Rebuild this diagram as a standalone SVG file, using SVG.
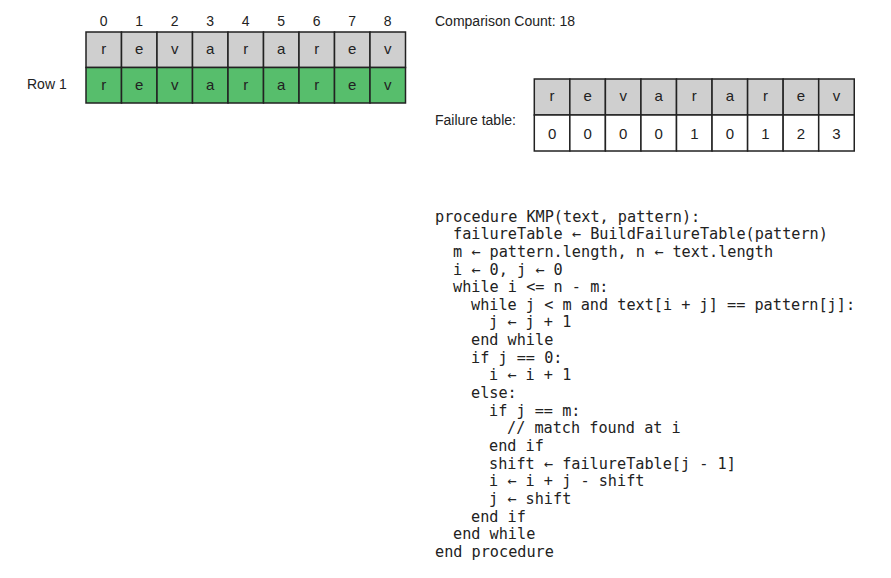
<svg xmlns="http://www.w3.org/2000/svg" width="891" height="578" viewBox="0 0 891 578">
<style>
.lbl{font-family:"Liberation Sans",Arial,sans-serif;font-size:14px;fill:#222}
.idx{font-family:"Liberation Sans",Arial,sans-serif;font-size:14px;fill:#222;text-anchor:middle}
.cell{font-family:"Liberation Sans",Arial,sans-serif;font-size:15px;fill:#222;text-anchor:middle}
.g{fill:#cfcfcf;stroke:#222;stroke-width:1.5}
.gr{fill:#57be6c;stroke:#222;stroke-width:1.5}
.w{fill:#ffffff;stroke:#222;stroke-width:1.5}
.code{font-family:"DejaVu Sans Mono","Liberation Mono",monospace;font-size:15.2px;fill:#222}
</style>
<rect width="891" height="578" fill="#ffffff"/>

<g id="column-indices">
<text class="idx" x="103.75" y="26">0</text>
<text class="idx" x="139.25" y="26">1</text>
<text class="idx" x="174.75" y="26">2</text>
<text class="idx" x="210.25" y="26">3</text>
<text class="idx" x="245.75" y="26">4</text>
<text class="idx" x="281.25" y="26">5</text>
<text class="idx" x="316.75" y="26">6</text>
<text class="idx" x="352.25" y="26">7</text>
<text class="idx" x="387.75" y="26">8</text>
</g>

<g id="text-row">
<rect class="g" x="86" y="32" width="35.5" height="35.5"/>
<rect class="g" x="121.5" y="32" width="35.5" height="35.5"/>
<rect class="g" x="157" y="32" width="35.5" height="35.5"/>
<rect class="g" x="192.5" y="32" width="35.5" height="35.5"/>
<rect class="g" x="228" y="32" width="35.5" height="35.5"/>
<rect class="g" x="263.5" y="32" width="35.5" height="35.5"/>
<rect class="g" x="299" y="32" width="35.5" height="35.5"/>
<rect class="g" x="334.5" y="32" width="35.5" height="35.5"/>
<rect class="g" x="370" y="32" width="35.5" height="35.5"/>
<text class="cell" x="103.75" y="54">r</text>
<text class="cell" x="139.25" y="54">e</text>
<text class="cell" x="174.75" y="54">v</text>
<text class="cell" x="210.25" y="54">a</text>
<text class="cell" x="245.75" y="54">r</text>
<text class="cell" x="281.25" y="54">a</text>
<text class="cell" x="316.75" y="54">r</text>
<text class="cell" x="352.25" y="54">e</text>
<text class="cell" x="387.75" y="54">v</text>
</g>

<g id="row-1">
<text class="lbl" x="27" y="89">Row 1</text>
<rect class="gr" x="86" y="67.5" width="35.5" height="35.5"/>
<rect class="gr" x="121.5" y="67.5" width="35.5" height="35.5"/>
<rect class="gr" x="157" y="67.5" width="35.5" height="35.5"/>
<rect class="gr" x="192.5" y="67.5" width="35.5" height="35.5"/>
<rect class="gr" x="228" y="67.5" width="35.5" height="35.5"/>
<rect class="gr" x="263.5" y="67.5" width="35.5" height="35.5"/>
<rect class="gr" x="299" y="67.5" width="35.5" height="35.5"/>
<rect class="gr" x="334.5" y="67.5" width="35.5" height="35.5"/>
<rect class="gr" x="370" y="67.5" width="35.5" height="35.5"/>
<text class="cell" x="103.75" y="89.5">r</text>
<text class="cell" x="139.25" y="89.5">e</text>
<text class="cell" x="174.75" y="89.5">v</text>
<text class="cell" x="210.25" y="89.5">a</text>
<text class="cell" x="245.75" y="89.5">r</text>
<text class="cell" x="281.25" y="89.5">a</text>
<text class="cell" x="316.75" y="89.5">r</text>
<text class="cell" x="352.25" y="89.5">e</text>
<text class="cell" x="387.75" y="89.5">v</text>
</g>

<g id="comparison-count">
<text class="lbl" x="435" y="26">Comparison Count: 18</text>
</g>

<g id="failure-table">
<text class="lbl" x="435" y="125">Failure table:</text>
<rect class="g" x="534.3" y="79" width="35.55" height="36"/>
<rect class="g" x="569.85" y="79" width="35.55" height="36"/>
<rect class="g" x="605.4" y="79" width="35.55" height="36"/>
<rect class="g" x="640.95" y="79" width="35.55" height="36"/>
<rect class="g" x="676.5" y="79" width="35.55" height="36"/>
<rect class="g" x="712.05" y="79" width="35.55" height="36"/>
<rect class="g" x="747.6" y="79" width="35.55" height="36"/>
<rect class="g" x="783.15" y="79" width="35.55" height="36"/>
<rect class="g" x="818.7" y="79" width="35.55" height="36"/>
<rect class="w" x="534.3" y="115" width="35.55" height="36"/>
<rect class="w" x="569.85" y="115" width="35.55" height="36"/>
<rect class="w" x="605.4" y="115" width="35.55" height="36"/>
<rect class="w" x="640.95" y="115" width="35.55" height="36"/>
<rect class="w" x="676.5" y="115" width="35.55" height="36"/>
<rect class="w" x="712.05" y="115" width="35.55" height="36"/>
<rect class="w" x="747.6" y="115" width="35.55" height="36"/>
<rect class="w" x="783.15" y="115" width="35.55" height="36"/>
<rect class="w" x="818.7" y="115" width="35.55" height="36"/>
<text class="cell" x="552.1" y="101">r</text>
<text class="cell" x="587.6" y="101">e</text>
<text class="cell" x="623.2" y="101">v</text>
<text class="cell" x="658.7" y="101">a</text>
<text class="cell" x="694.3" y="101">r</text>
<text class="cell" x="729.8" y="101">a</text>
<text class="cell" x="765.4" y="101">r</text>
<text class="cell" x="800.9" y="101">e</text>
<text class="cell" x="836.5" y="101">v</text>
<text class="cell" x="552.1" y="138.5">0</text>
<text class="cell" x="587.6" y="138.5">0</text>
<text class="cell" x="623.2" y="138.5">0</text>
<text class="cell" x="658.7" y="138.5">0</text>
<text class="cell" x="694.3" y="138.5">1</text>
<text class="cell" x="729.8" y="138.5">0</text>
<text class="cell" x="765.4" y="138.5">1</text>
<text class="cell" x="800.9" y="138.5">2</text>
<text class="cell" x="836.5" y="138.5">3</text>
</g>

<g id="pseudocode" class="code">
<text x="435" y="221.5">procedure KMP(text, pattern):</text>
<text x="453" y="239.2">failureTable ← BuildFailureTable(pattern)</text>
<text x="453" y="256.8">m ← pattern.length, n ← text.length</text>
<text x="453" y="274.5">i ← 0, j ← 0</text>
<text x="453" y="292.1">while i &lt;= n - m:</text>
<text x="471" y="309.8">while j &lt; m and text[i + j] == pattern[j]:</text>
<text x="489" y="327.4">j ← j + 1</text>
<text x="471" y="345.1">end while</text>
<text x="471" y="362.7">if j == 0:</text>
<text x="489" y="380.4">i ← i + 1</text>
<text x="471" y="398">else:</text>
<text x="489" y="415.7">if j == m:</text>
<text x="507" y="433.3">// match found at i</text>
<text x="489" y="451">end if</text>
<text x="489" y="468.6">shift ← failureTable[j - 1]</text>
<text x="489" y="486.3">i ← i + j - shift</text>
<text x="489" y="503.9">j ← shift</text>
<text x="471" y="521.6">end if</text>
<text x="453" y="539.2">end while</text>
<text x="435" y="556.9">end procedure</text>
</g>
</svg>
